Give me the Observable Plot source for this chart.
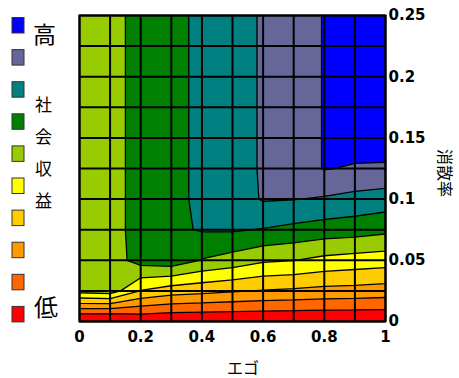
<!DOCTYPE html>
<html><head><meta charset="utf-8">
<script src="https://cdn.jsdelivr.net/npm/d3@7"></script>
<script src="https://cdn.jsdelivr.net/npm/@observablehq/plot@0.6"></script>
<style>
html,body{margin:0;padding:0;background:#fff;}
#wrap{position:relative;width:459px;height:378px;overflow:hidden;background:#fff;}
#wrap svg{position:absolute;left:0;top:0;}
</style></head><body><div id="wrap"></div>
<script>
// ---- data ----
const xValues = [0, 0.1, 0.2, 0.3, 0.4, 0.5, 0.6, 0.7, 0.8, 0.9, 1];           // エゴ
const yValues = [0, 0.025, 0.05, 0.075, 0.1, 0.125, 0.15, 0.175, 0.2, 0.225, 0.25]; // 消散率
// social-return level at each grid point, one row per 消散率 value (bottom row first)
const z000 = [-0.45, -0.55, 0.05, 0, 0, 0, 0, 0, 0, 0, 0];
const z025 = [5.35, 5.55, 3.95, 3.47, 3.29, 3.1, 2.94, 2.84, 2.7, 2.65, 2.55];
const z050 = [5.4, 5.5, 6.4, 6.63, 5.95, 5.6, 5.15, 5.02, 4.73, 4.58, 4.46];
const z075 = [5.4, 5.5, 6.5, 6.8, 7.08, 7.1, 6.95, 6.75, 6.55, 6.45, 6.25];
const z100 = [5.4, 5.5, 6.5, 6.8, 7.15, 7.5, 8.08, 8.03, 7.9, 7.7, 7.54];
const z125 = [5.4, 5.5, 6.5, 6.8, 7.15, 7.6, 8.1, 8.5, 9.05, 8.9, 8.85];
const z150 = [5.4, 5.5, 6.5, 6.8, 7.15, 7.6, 8.1, 8.5, 9.05, 9.5, 9.6];
const z175 = [5.4, 5.5, 6.5, 6.8, 7.15, 7.6, 8.1, 8.5, 9.05, 9.5, 9.8];
const z200 = [5.4, 5.5, 6.5, 6.8, 7.15, 7.6, 8.1, 8.5, 9.05, 9.5, 9.8];
const z225 = [5.4, 5.5, 6.5, 6.8, 7.15, 7.6, 8.1, 8.5, 9.05, 9.5, 9.8];
const z250 = [5.4, 5.5, 6.5, 6.8, 7.15, 7.6, 8.1, 8.5, 9.05, 9.5, 9.8];
const zRows = [z000, z025, z050, z075, z100, z125, z150, z175, z200, z225, z250];

const levels = [-1, 1, 2, 3, 4, 5, 6, 7, 8, 9];   // band lower bounds (低 → 高)
const bandColors = ["#FF0000", "#FF6600", "#FF9900", "#FFCC00", "#FFFF00",
                    "#99CC00", "#008000", "#008080", "#666699", "#0000FF"];
const xTicks = [0, 0.2, 0.4, 0.6, 0.8, 1];
const yTicks = [0, 0.05, 0.1, 0.15, 0.2, 0.25];
const xTitle = "エゴ";
const yTitle = "消散率";
const legendTop = "高";
const legendMid = ["社", "会", "収", "益"];
const legendBottom = "低";

// ---- chart ----
const nx = xValues.length, ny = yValues.length;
const dx = xValues[1] - xValues[0], dy = yValues[1] - yValues[0];
const grid = zRows.flat();

const W = 459, H = 378;
const mL = 79, mR = 74, mT = 15, mB = 57;
const axisFont = {fontFamily: "DejaVu Sans", fontWeight: "bold", fontSize: 15, fill: "black"};

const chart = Plot.plot({
  width: W, height: H,
  marginLeft: mL, marginRight: mR, marginTop: mT, marginBottom: mB,
  style: {background: "transparent", overflow: "visible"},
  x: {domain: [xValues[0], xValues[nx - 1]]},
  y: {domain: [yValues[0], yValues[ny - 1]]},
  color: {type: "ordinal", domain: levels, range: bandColors},
  marks: [
    Plot.contour(grid, {
      width: nx, height: ny,
      x1: xValues[0] - dx / 2, x2: xValues[nx - 1] + dx / 2,
      y1: yValues[0] - dy / 2, y2: yValues[ny - 1] + dy / 2,
      fill: Plot.identity, thresholds: levels,
      stroke: "black", strokeWidth: 1.3, clip: true
    }),
    Plot.ruleX(xValues, {stroke: "black", strokeWidth: 2}),
    Plot.ruleY(yValues, {stroke: "black", strokeWidth: 2}),
    Plot.frame({stroke: "black", strokeWidth: 2}),
    Plot.axisX({ticks: xTicks, tickFormat: d => String(d), tickSize: 0, tickPadding: 10, label: null, ...axisFont}),
    Plot.axisY({anchor: "right", ticks: yTicks, tickFormat: d => String(d), tickSize: 0, tickPadding: 3, label: null, ...axisFont})
  ]
});
document.getElementById("wrap").appendChild(chart);

const svg = d3.select(chart);
const cjk = "'Noto Sans CJK JP', 'Noto Sans CJK SC', sans-serif";
svg.append("text")
  .attr("x", 243).attr("y", 367)
  .attr("text-anchor", "middle").attr("dominant-baseline", "central")
  .style("font-family", cjk).style("font-size", "16px").attr("fill", "black")
  .text(xTitle);
svg.append("text")
  .attr("transform", "translate(446,173) rotate(90)")
  .attr("text-anchor", "middle").attr("dominant-baseline", "central")
  .style("font-family", cjk).style("font-size", "16px").attr("fill", "black")
  .text(yTitle);

// ---- legend ----
const leg = d3.select("#wrap").append("svg")
  .attr("width", mL).attr("height", H);
const legendColors = bandColors.slice().reverse();
leg.selectAll("rect").data(legendColors).join("rect")
  .attr("x", 12).attr("y", (d, i) => 17.5 + i * 32.1)
  .attr("width", 12).attr("height", 15.5)
  .attr("fill", d => d).attr("stroke", "#333").attr("stroke-width", 1);
leg.append("text").attr("x", 33).attr("y", 33)
  .attr("dominant-baseline", "central")
  .style("font-family", cjk).style("font-size", "23px").text(legendTop);
leg.selectAll("text.mid").data(legendMid).join("text").attr("class", "mid")
  .attr("x", 35).attr("y", (d, i) => 103 + i * 32)
  .attr("dominant-baseline", "central")
  .style("font-family", cjk).style("font-size", "17px").text(d => d);
leg.append("text").attr("x", 34).attr("y", 305)
  .attr("dominant-baseline", "central")
  .style("font-family", cjk).style("font-size", "24px").text(legendBottom);
</script></body></html>
